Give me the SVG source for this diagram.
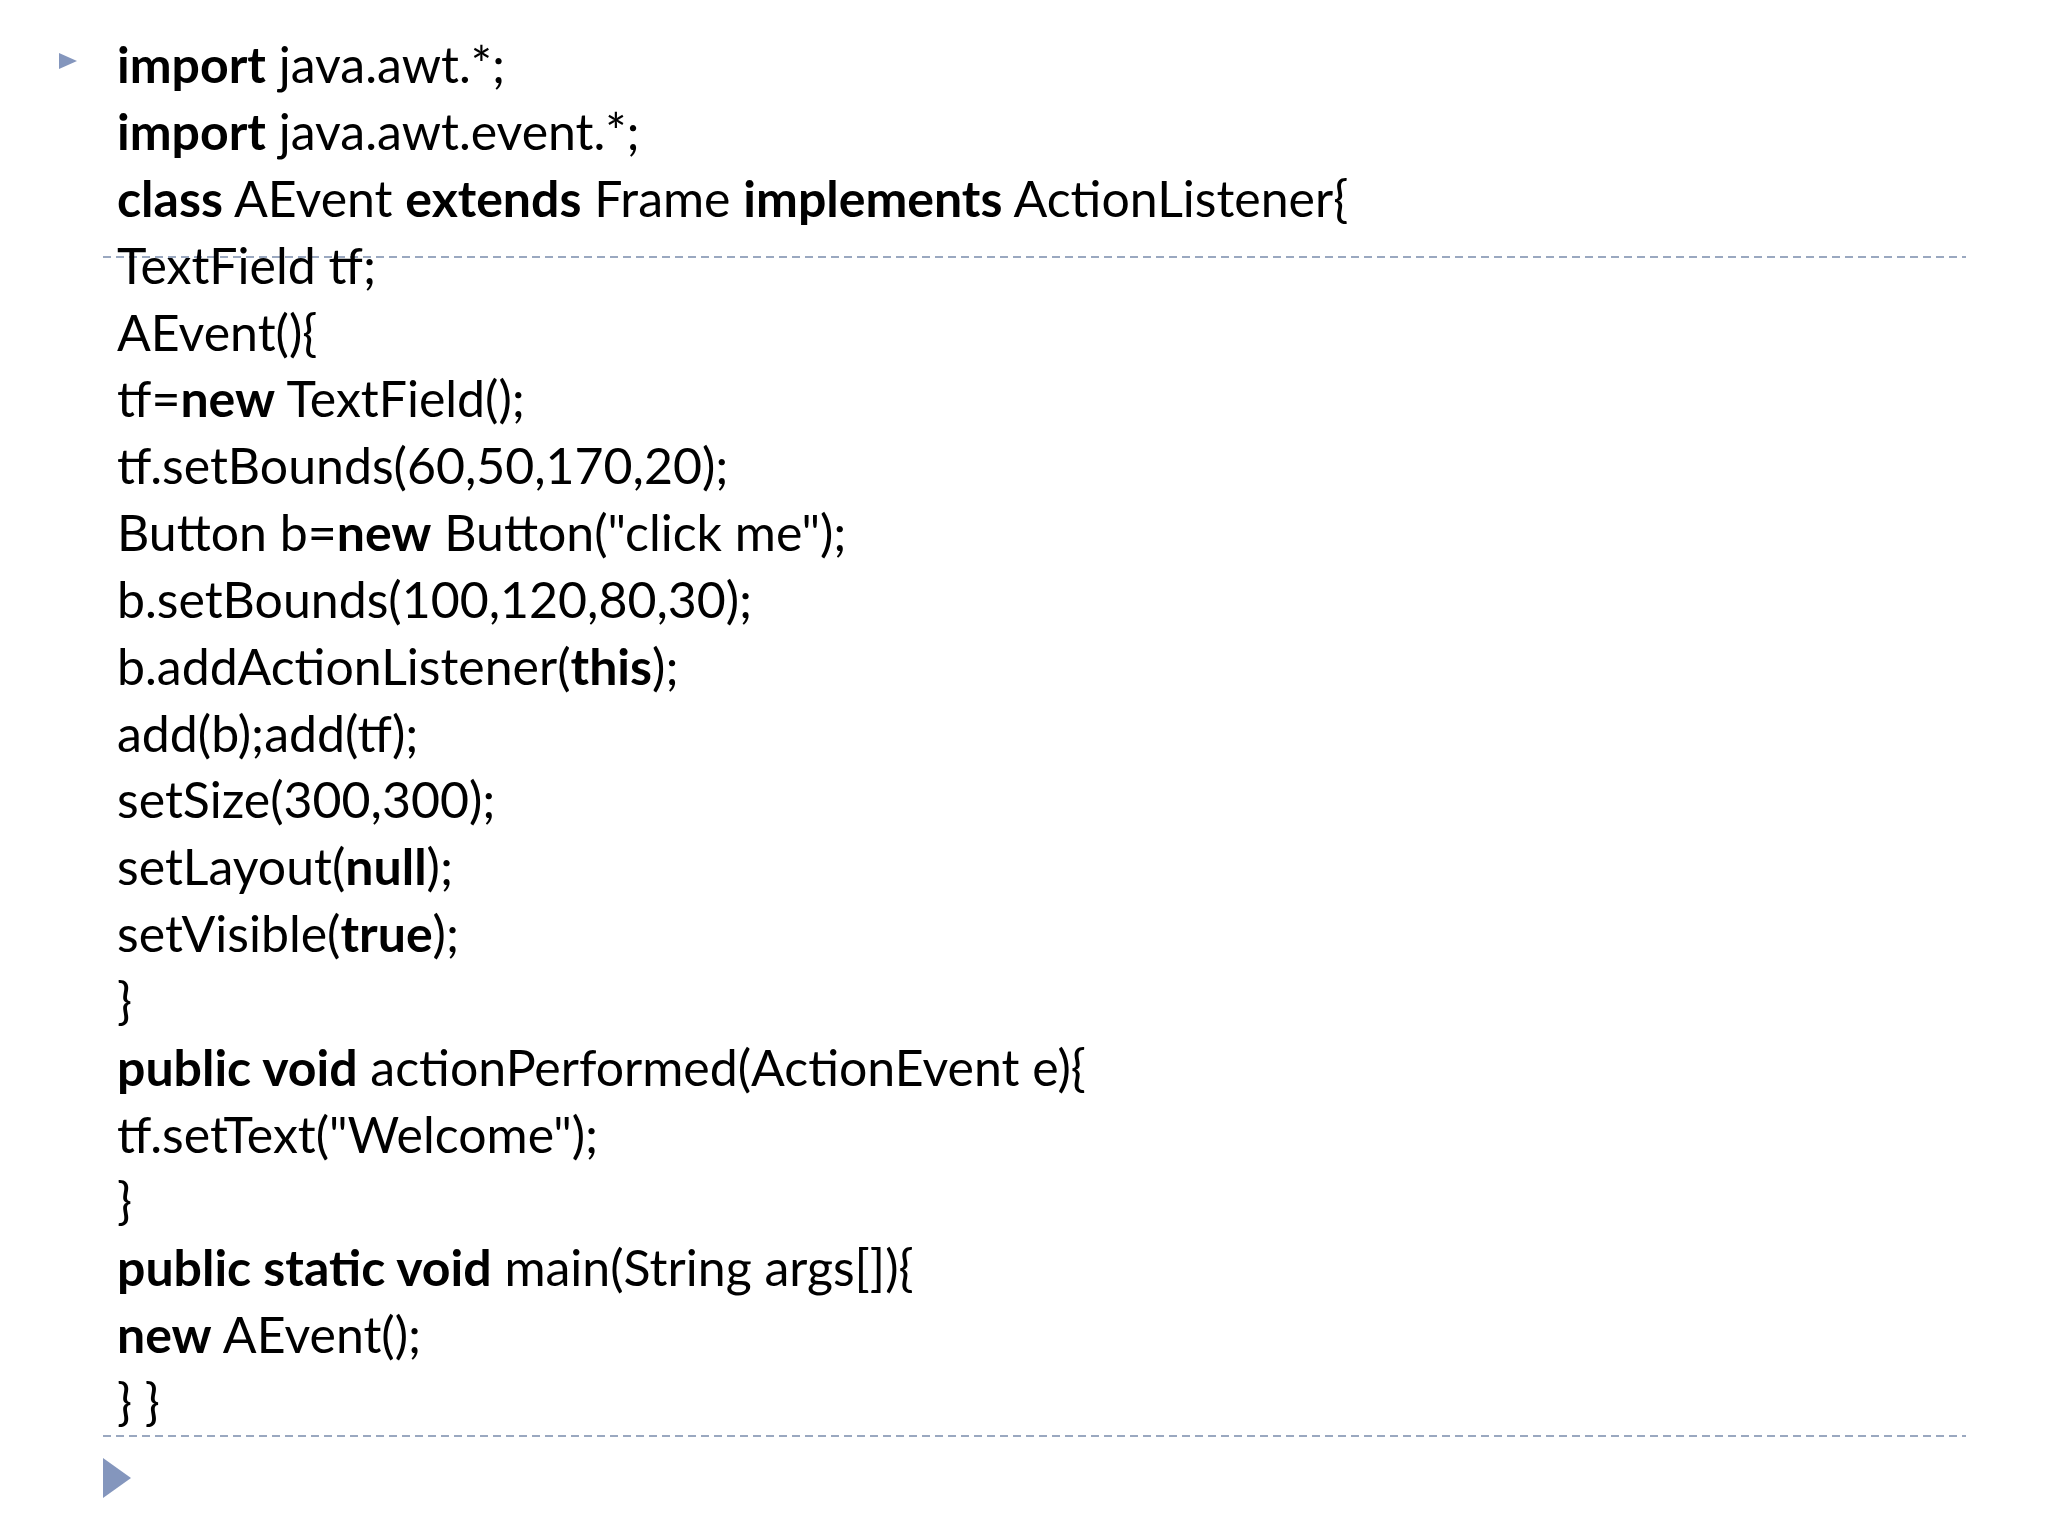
<svg xmlns="http://www.w3.org/2000/svg" width="2048" height="1536" viewBox="0 0 2048 1536">
<style>
text{font-family:Lato,"Open Sans",sans-serif;font-size:50px;fill:#000}
.b{font-weight:bold}
.d{stroke:#9aa8c0;stroke-width:2;stroke-dasharray:8,5}
</style>
<rect width="2048" height="1536" fill="#fff"/>
<line class="d" x1="103" y1="257" x2="1966" y2="257"/>
<line class="d" x1="103" y1="1436" x2="1966" y2="1436"/>
<polygon points="59,53 77,61 59,69" fill="#8496bd"/>
<polygon points="103,1458 131,1478 103,1498" fill="#8496bd"/>
<g id="code">
<text x="117" y="83"><tspan class="b">import</tspan> java.awt.*;</text>
<text x="117" y="150"><tspan class="b">import</tspan> java.awt.event.*;</text>
<text x="117" y="217"><tspan class="b">class</tspan> AEvent <tspan class="b">extends</tspan> Frame <tspan class="b">implements</tspan> ActionListener{</text>
<text x="117" y="284">TextField tf;</text>
<text x="117" y="351">AEvent(){</text>
<text x="117" y="417">tf=<tspan class="b">new</tspan> TextField();</text>
<text x="117" y="484">tf.setBounds(60,50,170,20);</text>
<text x="117" y="551">Button b=<tspan class="b">new</tspan> Button("click me");</text>
<text x="117" y="618">b.setBounds(100,120,80,30);</text>
<text x="117" y="685">b.addActionListener(<tspan class="b">this</tspan>);</text>
<text x="117" y="752">add(b);add(tf);</text>
<text x="117" y="818">setSize(300,300);</text>
<text x="117" y="885">setLayout(<tspan class="b">null</tspan>);</text>
<text x="117" y="952">setVisible(<tspan class="b">true</tspan>);</text>
<text x="117" y="1019">}</text>
<text x="117" y="1086"><tspan class="b">public void</tspan> actionPerformed(ActionEvent e){</text>
<text x="117" y="1153">tf.setText("Welcome");</text>
<text x="117" y="1219">}</text>
<text x="117" y="1286"><tspan class="b">public static void</tspan> main(String args[]){</text>
<text x="117" y="1353"><tspan class="b">new</tspan> AEvent();</text>
<text x="117" y="1420">}  }</text>
</g>
</svg>
